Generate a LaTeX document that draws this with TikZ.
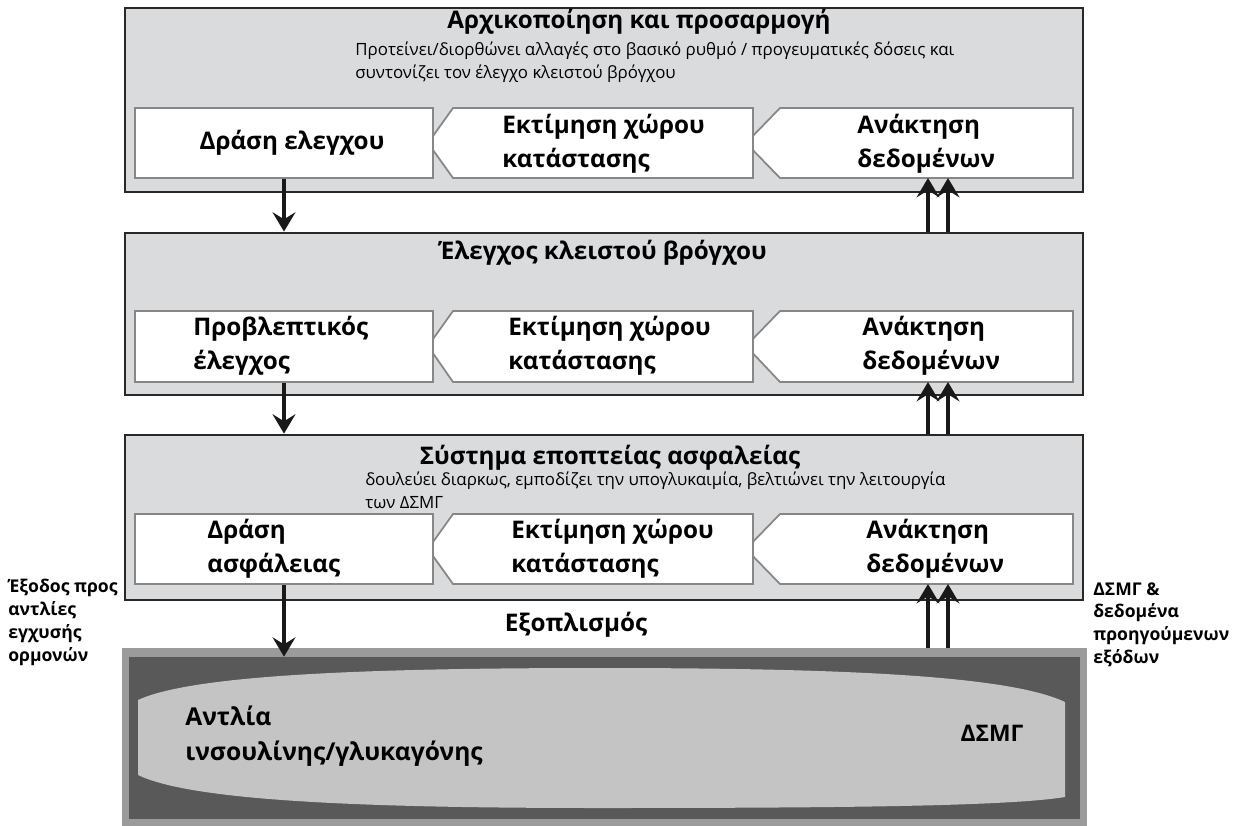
\documentclass[tikz,border=0pt]{standalone}
\usepackage{fontspec}
\setmainfont{Open Sans}
\usetikzlibrary{arrows.meta,positioning,fit}
\definecolor{layerfill}{RGB}{218,219,221}
\definecolor{layerline}{RGB}{40,40,40}
\definecolor{stepline}{RGB}{135,135,135}
\definecolor{equipedge}{RGB}{155,155,155}
\definecolor{equipdark}{RGB}{89,89,89}
\definecolor{drumfill}{RGB}{196,196,196}

\begin{document}
\begin{tikzpicture}[
  x=0.02cm, y=-0.02cm,
  >={Stealth[length=11pt,width=13pt,inset=4pt]},
  layerbox/.style={
    draw=layerline,line width=1.6pt,fill=layerfill,inner sep=0pt
  },
  stepbox/.style={
    draw=stepline,line width=1pt,fill=white,inner sep=0pt
  },
  steptext/.style={
    font=\bfseries\fontsize{13.8}{19.5}\selectfont,
    align=left,inner sep=0pt,anchor=west
  },
  titletext/.style={font=\bfseries\fontsize{13.8}{16}\selectfont,inner sep=0pt},
  notetext/.style={
    font=\fontsize{9.6}{13}\selectfont,
    align=left,inner sep=0pt,anchor=west
  },
  sidetext/.style={
    font=\bfseries\fontsize{10}{13}\selectfont,
    align=left,inner sep=0pt,anchor=north west
  },
  flow/.style={->,draw=black!90,line width=2.4pt}
]
\useasboundingbox (0,0) rectangle (1234,825);

% ---- the three control layers ----
\node[layerbox,fit={(125,8) (1083,192)}]   (layer1) {};
\node[layerbox,fit={(125,233) (1083,395)}] (layer2) {};
\node[layerbox,fit={(125,435) (1083,600)}] (layer3) {};

\node[titletext] (title1) at (639,22)  {Αρχικοποίηση και προσαρμογή};
\node[notetext]  (note1)  at (355,62)  {Προτείνει/διορθώνει αλλαγές στο βασικό ρυθμό / προγευματικές δόσεις και\\συντονίζει τον έλεγχο κλειστού βρόγχου};
\node[titletext] (title2) at (603,253) {Έλεγχος κλειστού βρόγχου};
\node[titletext] (title3) at (610,458) {Σύστημα εποπτείας ασφαλείας};
\node[notetext]  (note3)  at (365,490) {δουλεύει διαρκως, εμποδίζει την υπογλυκαιμία, βελτιώνει την λειτουργία\\των ΔΣΜΓ};

% ---- step boxes, row 1 ----
\draw[stepbox] (780,108) -- (1073,108) -- (1073,178) -- (780,178) -- (746,143) -- cycle;
\draw[stepbox] (453,108) -- (753,108) -- (753,178) -- (453,178) -- (428,143) -- cycle;
\node[stepbox,fit={(135,108) (433,178)}] (act1) {};
\coordinate (ret1a) at (928,178);
\coordinate (ret1b) at (948,178);

\node[steptext,anchor=center] (act1t) at (292,143) {Δράση ελεγχου};
\node[steptext] (est1) at (502,144) {Εκτίμηση χώρου\\κατάστασης};
\node[steptext] (ret1) at (857,144) {Ανάκτηση\\δεδομένων};

% ---- step boxes, row 2 ----
\draw[stepbox] (780,311) -- (1073,311) -- (1073,382) -- (780,382) -- (746,346) -- cycle;
\draw[stepbox] (453,311) -- (753,311) -- (753,382) -- (453,382) -- (428,346) -- cycle;
\node[stepbox,fit={(135,311) (433,382)}] (act2) {};
\coordinate (ret2a) at (928,382);
\coordinate (ret2b) at (948,382);

\node[steptext] (act2t) at (193,346) {Προβλεπτικός\\έλεγχος};
\node[steptext] (est2)  at (508,346) {Εκτίμηση χώρου\\κατάστασης};
\node[steptext] (ret2)  at (862,346) {Ανάκτηση\\δεδομένων};

% ---- step boxes, row 3 ----
\draw[stepbox] (780,514) -- (1073,514) -- (1073,584) -- (780,584) -- (746,549) -- cycle;
\draw[stepbox] (453,514) -- (753,514) -- (753,584) -- (453,584) -- (428,549) -- cycle;
\node[stepbox,fit={(135,514) (433,584)}] (act3) {};
\coordinate (ret3a) at (928,584);
\coordinate (ret3b) at (948,584);

\node[steptext] (act3t) at (207,549) {Δράση\\ασφάλειας};
\node[steptext] (est3)  at (511,549) {Εκτίμηση χώρου\\κατάστασης};
\node[steptext] (ret3)  at (866,549) {Ανάκτηση\\δεδομένων};

% ---- equipment ----
\node[titletext] (equiplabel) at (576,625) {Εξοπλισμός};
\node[fill=equipedge,inner sep=0pt,fit={(122,648) (1087,830)}] (equip) {};
\node[fill=equipdark,inner sep=0pt,fit={(129,657) (1080,819)}] (equipin) {};
\fill[drumfill] (138,700) .. controls (190,676) and (350,668) .. (600,668)
  .. controls (850,668) and (1010,676) .. (1065,702)
  -- (1065,797) .. controls (1010,806) and (850,808) .. (600,808)
  .. controls (350,808) and (190,800) .. (138,775) -- cycle;

\node[steptext,font=\bfseries\fontsize{14}{20}\selectfont] (pump) at (185,736) {Αντλία\\ινσουλίνης/γλυκαγόνης};
\node[titletext,font=\bfseries\fontsize{13}{16}\selectfont] (cgm) at (992,733) {ΔΣΜΓ};

\node[sidetext] (outlabel) at (8,579)    {Έξοδος προς\\αντλίες\\εγχυσής\\ορμονών};
\node[sidetext] (inlabel)  at (1093,582) {ΔΣΜΓ \&\\δεδομένα\\προηγούμενων\\εξόδων};

% ---- flows down (actions) and up (data) ----
\draw[flow] (act1.south) -- (act1.south |- layer2.north);
\draw[flow] (act2.south) -- (act2.south |- layer3.north);
\draw[flow] (act3.south) -- (act3.south |- equipin.north);

\draw[flow] (ret1a |- layer2.north) -- (ret1a);
\draw[flow] (ret1b |- layer2.north) -- (ret1b);
\draw[flow] (ret2a |- layer3.north) -- (ret2a);
\draw[flow] (ret2b |- layer3.north) -- (ret2b);
\draw[flow] (ret3a |- equip.north) -- (ret3a);
\draw[flow] (ret3b |- equip.north) -- (ret3b);

\end{tikzpicture}
\end{document}
